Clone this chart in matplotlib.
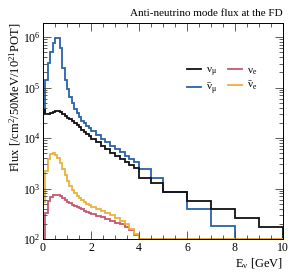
import numpy as np
import matplotlib
matplotlib.use("Agg")
import matplotlib.pyplot as plt
from matplotlib.ticker import LogLocator, MultipleLocator, NullFormatter

plt.rcParams['font.family'] = ['Liberation Serif', 'DejaVu Serif']
plt.rcParams['mathtext.fontset'] = 'custom'
plt.rcParams['mathtext.rm'] = 'Liberation Serif'
plt.rcParams['mathtext.it'] = 'Liberation Serif'
plt.rcParams['mathtext.bf'] = 'Liberation Serif:bold'

# bin edges [GeV]
edges = np.concatenate([np.arange(0, 2.0, 0.1), np.arange(2.0, 4.0, 0.2),
                        [4.0, 4.5, 5.0, 6.0, 7.0, 8.0, 9.0, 10.0]])

numu = [3.6e4, 3.0e4, 2.95e4, 3.1e4, 3.3e4, 3.5e4, 3.45e4, 3.25e4, 3.0e4, 2.8e4,
        2.55e4, 2.35e4, 2.15e4, 1.95e4, 1.8e4, 1.62e4, 1.47e4, 1.33e4, 1.22e4, 1.12e4,
        9.8e3, 8.4e3, 7.1e3, 6.0e3, 5.1e3, 4.4e3, 3.8e3, 3.3e3, 2.9e3, 2.55e3,
        1.6e3, 1.26e3, 870, 565, 388, 264, 170]
numubar = [3.2e4, 1.4e5, 3.1e5, 5.0e5, 7.6e5, 9.8e5, 9.8e5, 6.0e5, 2.4e5, 1.4e5,
           9.5e4, 6.6e4, 4.9e4, 3.8e4, 3.1e4, 2.6e4, 2.2e4, 1.95e4, 1.75e4, 1.58e4,
           1.38e4, 1.17e4, 9.8e3, 8.3e3, 7.1e3, 6.1e3, 5.2e3, 4.5e3, 3.9e3, 3.35e3,
           2.45e3, 1.6e3, 870, 390, 185, 0, 0]
nue = [0, 330, 560, 680, 745, 750, 730, 700, 650, 600,
       545, 510, 480, 455, 430, 405, 385, 365, 345, 325,
       310, 290, 270, 250, 230, 212, 195, 175, 150, 118,
       0, 0, 0, 0, 0, 0, 0]
nuebar = [550, 2.2e3, 3.8e3, 4.8e3, 5.0e3, 4.7e3, 4.0e3, 3.2e3, 2.4e3, 1.85e3,
          1.4e3, 1.12e3, 930, 800, 710, 640, 580, 530, 495, 465,
          440, 400, 365, 330, 295, 265, 230, 195, 160, 125,
          0, 0, 0, 0, 0, 0, 0]

labels = [r'$\nu_{\mu}$', r'$\bar{\nu}_{\mu}$', r'$\nu_{e}$', r'$\bar{\nu}_{e}$']
colors = ['#111111', '#2a62a8', '#c9566f', '#eab23c']
ymin, ymax = 100, 1.95e6

W, H = 293, 272
fig = plt.figure(figsize=(W / 100, H / 100), dpi=100)
ax = fig.add_axes([43 / W, 1 - 239 / H, 240 / W, (239 - 22.5) / H])

series = [numu, numubar, nue, nuebar]
order = [1, 0, 2, 3]
handles = [None] * 4
for i in order:
    v = np.maximum(np.asarray(series[i], float), ymin)
    h = ax.stairs(v, edges, baseline=ymin, color=colors[i], lw=1.3, label=labels[i])
    handles[i] = h

ax.set_yscale('log')
ax.set_xlim(0, 10)
ax.set_ylim(ymin, ymax)

ax.xaxis.set_major_locator(MultipleLocator(2))
ax.xaxis.set_minor_locator(MultipleLocator(0.5))
ax.yaxis.set_major_locator(LogLocator(base=10, numticks=10))
ax.yaxis.set_minor_locator(LogLocator(base=10, subs=np.arange(2, 10), numticks=20))
ax.yaxis.set_minor_formatter(NullFormatter())
ax.tick_params(which='both', direction='in', top=True, right=True, labelsize=8.5,
               width=0.6, color='#444444')
ax.tick_params(which='major', length=6)
ax.tick_params(which='minor', length=3)
ax.tick_params(axis='x', pad=2)
ax.tick_params(axis='y', pad=1.5)
for s in ax.spines.values():
    s.set_linewidth(0.7)

ax.set_xlabel(r'E$_{\nu}$ [GeV]', fontsize=9, loc='right', labelpad=2)
ax.set_ylabel(r'Flux [/cm$^{2}$/50MeV/10$^{21}$POT]', fontsize=9, loc='top', labelpad=0)

fig.text(283 / W, 1 - 13 / H, 'Anti-neutrino mode flux at the FD', ha='right',
         va='center', fontsize=8)

leg = ax.legend(handles=[handles[0], handles[1], handles[2], handles[3]],
                labels=[labels[0], labels[1], labels[2], labels[3]],
                ncol=2, frameon=False, fontsize=8, loc='center',
                bbox_to_anchor=(0.745, 0.73), handlelength=1.3, handletextpad=0.4,
                columnspacing=1.0, labelspacing=0.25)

fig.savefig('out.png', dpi=100)
